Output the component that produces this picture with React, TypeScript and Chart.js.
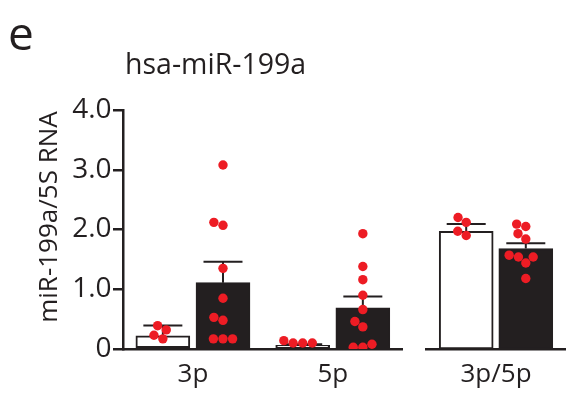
import React, { useEffect, useRef } from "react";
import { Chart, registerables } from "chart.js";

Chart.register(...registerables);

// ---------- data ----------
const panelALabels = ["3p", "5p"];
const panelBLabels = ["3p/5p"];

const whiteMeanA = [0.22, 0.06];
const whiteSemA = [0.175, 0.02];
const blackMeanA = [1.11, 0.69];
const blackSemA = [0.35, 0.19];

const whiteMeanB = [1.97];
const whiteSemB = [0.12];
const blackMeanB = [1.68];
const blackSemB = [0.09];

const white3p = [0.39, 0.32, 0.23, 0.17];
const black3p = [3.08, 2.12, 2.07, 1.35, 0.85, 0.53, 0.48, 0.17, 0.17, 0.17];
const white5p = [0.14, 0.1, 0.1, 0.1];
const black5p = [1.93, 1.38, 1.16, 0.9, 0.66, 0.46, 0.37, 0.08, 0.03, 0.03];
const white35 = [2.2, 2.12, 1.97, 1.9];
const black35 = [2.09, 2.05, 1.93, 1.84, 1.57, 1.54, 1.54, 1.44, 1.18];

const yTicks = [0, 1, 2, 3, 4];

const titleText = "hsa-miR-199a";
const panelLetter = "e";
const yTitle = "miR-199a/5S RNA";

// ---------- style ----------
const INK = "#231F20";
const RED = "#ED1C24";
const FONT = "'Open Sans', sans-serif";
const GROUP_OFFSET = 0.215; // half distance between paired bars, in category units
const BAR_PX = 54;
const DOT_R = 4.7;
const CAP_HALF = 19.5;

// simple beeswarm: spread points that would overlap (sizes in pixels)
function swarm(values: number[], center: number, pxPerX: number, pxPerY: number, d: number) {
  const sorted = values.slice().sort((a, b) => a - b);
  const placed: { px: number; py: number; v: number }[] = [];
  for (const v of sorted) {
    const py = v * pxPerY;
    const cands = [0];
    for (const q of placed) {
      const dy = Math.abs(q.py - py);
      if (dy < d) {
        const dx = Math.sqrt(d * d - dy * dy);
        cands.push(q.px + dx, q.px - dx);
      }
    }
    cands.sort((a, b) => Math.abs(a) - Math.abs(b) || a - b);
    let chosen = 0;
    for (const c of cands) {
      if (placed.every((q) => (q.px - c) ** 2 + (q.py - py) ** 2 >= d * d - 0.01)) {
        chosen = c;
        break;
      }
    }
    placed.push({ px: chosen, py, v });
  }
  return placed.map((q) => ({ x: center + q.px / pxPerX, y: q.v }));
}

const errorBarPlugin = {
  id: "errorBars",
  afterDatasetDraw(chart: any, args: any) {
    const ds = chart.data.datasets[args.index];
    if (!ds.sem) return;
    const ctx = chart.ctx;
    const yScale = chart.scales.y;
    ctx.save();
    ctx.strokeStyle = INK;
    ctx.lineWidth = 2;
    args.meta.data.forEach((bar: any, i: number) => {
      const top = yScale.getPixelForValue(ds.data[i].y + ds.sem[i]);
      ctx.beginPath();
      ctx.moveTo(bar.x, bar.y);
      ctx.lineTo(bar.x, top);
      ctx.moveTo(bar.x - CAP_HALF, top);
      ctx.lineTo(bar.x + CAP_HALF, top);
      ctx.stroke();
    });
    ctx.restore();
  },
};

function makeConfig(
  labels: string[],
  whiteMean: number[],
  whiteSem: number[],
  blackMean: number[],
  blackSem: number[],
  whitePts: number[][],
  blackPts: number[][],
  showY: boolean,
  padding: any,
  pxPerX: number
) {
  const pxPerY = 239.3 / 4;
  const dots: { x: number; y: number }[] = [];
  whitePts.forEach((vals, i) => dots.push(...swarm(vals, i - GROUP_OFFSET, pxPerX, pxPerY, 9.6)));
  blackPts.forEach((vals, i) => dots.push(...swarm(vals, i + GROUP_OFFSET, pxPerX, pxPerY, 9.6)));
  const barCommon = {
    type: "bar",
    grouped: false,
    borderColor: INK,
    borderWidth: 2,
    borderSkipped: false,
    categoryPercentage: 1,
    barPercentage: 1,
    maxBarThickness: BAR_PX,
    order: 2,
  };
  return {
    type: "bar",
    data: {
      datasets: [
        {
          ...barCommon,
          data: whiteMean.map((v, i) => ({ x: i - GROUP_OFFSET, y: v })),
          sem: whiteSem,
          backgroundColor: "#FFFFFF",
        },
        {
          ...barCommon,
          data: blackMean.map((v, i) => ({ x: i + GROUP_OFFSET, y: v })),
          sem: blackSem,
          backgroundColor: INK,
        },
        {
          type: "scatter",
          data: dots,
          pointRadius: DOT_R,
          pointBackgroundColor: RED,
          pointBorderWidth: 0,
          order: 1,
        },
      ],
    },
    options: {
      responsive: false,
      animation: false,
      layout: { padding },
      plugins: { legend: { display: false }, tooltip: { enabled: false } },
      scales: {
        x: {
          type: "linear",
          offset: false,
          min: -0.5,
          max: labels.length - 0.5,
          afterBuildTicks: (s: any) => {
            s.ticks = labels.map((_, i) => ({ value: i }));
          },
          grid: { display: false, drawTicks: false, offset: false },
          border: { display: true, color: INK, width: 2.5 },
          ticks: {
            color: INK,
            font: { family: FONT, size: 26 },
            padding: 10,
            autoSkip: false,
            maxRotation: 0,
            callback: (v: any) => labels[Math.round(Number(v))],
          },
          afterFit: (s: any) => {
            s.height = 50;
            s.paddingLeft = 0;
            s.paddingRight = 0;
          },
        },
        y: {
          display: showY,
          min: 0,
          max: 4,
          afterBuildTicks: (s: any) => {
            s.ticks = yTicks.map((v) => ({ value: v }));
          },
          ticks: {
            color: INK,
            font: { family: FONT, size: 28 },
            padding: 1.5,
            callback: (v: any) => (Number(v) === 0 ? "0" : Number(v).toFixed(1)),
          },
          grid: { drawOnChartArea: false, tickLength: 10, lineWidth: 2.5, color: INK },
          border: { display: true, color: INK, width: 2.5 },
          afterFit: (s: any) => {
            s.width = showY ? 123 : 0;
          },
        },
      },
    },
    plugins: [errorBarPlugin],
  };
}

export default function App() {
  const refA = useRef<HTMLCanvasElement>(null);
  const refB = useRef<HTMLCanvasElement>(null);

  useEffect(() => {
    const a = new Chart(
      refA.current as HTMLCanvasElement,
      makeConfig(
        panelALabels,
        whiteMeanA,
        whiteSemA,
        blackMeanA,
        blackSemA,
        [white3p, white5p],
        [black3p, black5p],
        true,
        { top: 110, left: 0, right: 7.3, bottom: 0 },
        139.85
      ) as any
    );
    const b = new Chart(
      refB.current as HTMLCanvasElement,
      makeConfig(
        panelBLabels,
        whiteMeanB,
        whiteSemB,
        blackMeanB,
        blackSemB,
        [white35],
        [black35],
        false,
        { top: 110, left: 16.7, right: 2.3, bottom: 0 },
        141
      ) as any
    );
    return () => {
      a.destroy();
      b.destroy();
    };
  }, []);

  return (
    <div
      style={{
        position: "fixed",
        left: 0,
        top: 0,
        width: 570,
        height: 399,
        background: "#fff",
        fontFamily: FONT,
        color: INK,
        overflow: "hidden",
      }}
    >
      <canvas ref={refA} width={410} height={399} style={{ position: "absolute", left: 0, top: 0 }} />
      <canvas ref={refB} width={160} height={399} style={{ position: "absolute", left: 410, top: 0 }} />
      <div style={{ position: "absolute", left: 8, top: 9, fontSize: 46, lineHeight: 1 }}>{panelLetter}</div>
      <div style={{ position: "absolute", left: 125, top: 49, fontSize: 28.5, lineHeight: 1, whiteSpace: "nowrap" }}>
        {titleText}
      </div>
      <div
        style={{
          position: "absolute",
          left: 46.6,
          top: 216.5,
          fontSize: 26,
          lineHeight: 1,
          whiteSpace: "nowrap",
          transform: "translate(-50%, -50%) rotate(-90deg)",
        }}
      >
        {yTitle}
      </div>
    </div>
  );
}
